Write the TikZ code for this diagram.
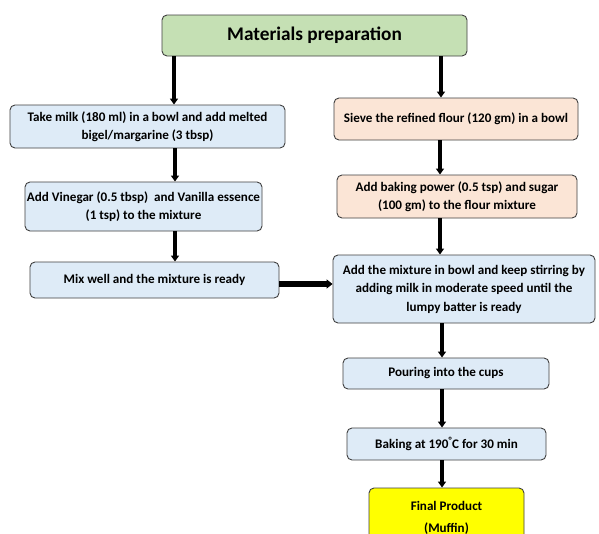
\documentclass[tikz,border=0pt]{standalone}
\usepackage{fontspec}
\setmainfont{Carlito}
\usetikzlibrary{arrows.meta}
\definecolor{greenbox}{HTML}{C5E0B4}
\definecolor{bluebox}{HTML}{DEEBF7}
\definecolor{peachbox}{HTML}{FBE5D6}
\definecolor{yellowbox}{HTML}{FFFF00}
\definecolor{edgegray}{HTML}{404040}
\begin{document}
\begin{tikzpicture}[x=1pt,y=-1pt,
  box/.style={draw=edgegray, line width=0.9pt, rounded corners=5pt, inner sep=0pt, align=center, font=\bfseries\fontsize{13.1}{18.5}\selectfont, anchor=center},
  bluestep/.style={box, fill=bluebox},
  peachstep/.style={box, fill=peachbox},
  flow/.style={line width=3.4pt, -{Triangle[length=6pt,width=8pt]}},
  bigflow/.style={line width=5.5pt, -{Triangle[length=6pt,width=9pt]}}]
\useasboundingbox (0,0) rectangle (599,533);
\clip (0,0) rectangle (599,533);
\fill[white] (0,0) rectangle (599,533);

\node[box, fill=greenbox, minimum width=305pt, minimum height=41pt, font=\bfseries\fontsize{19.3}{22}\selectfont] (title) at (314.5,35.5) {Materials preparation};

\node[bluestep, minimum width=275pt, minimum height=43pt] (L1) at (147.5,126.5) {Take milk (180 ml) in a bowl and add melted\\bigel/margarine (3 tbsp)};
\node[bluestep, minimum width=237pt, minimum height=49pt] (L2) at (143.5,206.5) {Add Vinegar (0.5 tbsp)\ \ and Vanilla essence\\(1 tsp) to the mixture};
\node[bluestep, minimum width=249pt, minimum height=36pt] (L3) at (154.5,280) {Mix well and the mixture is ready};

\node[peachstep, minimum width=244pt, minimum height=42pt] (R1) at (456,119) {Sieve the refined flour (120 gm) in a bowl};
\node[peachstep, minimum width=240pt, minimum height=43pt] (R2) at (457,196.5) {Add baking power (0.5 tsp) and sugar\\(100 gm) to the flour mixture};
\node[bluestep, minimum width=262pt, minimum height=68pt] (M) at (464,289) {Add the mixture in bowl and keep stirring by\\adding milk in moderate speed until the\\lumpy batter is ready};

\node[bluestep, minimum width=206pt, minimum height=31pt] (P) at (446,373.5) {Pouring into the cups};
\node[bluestep, minimum width=199pt, minimum height=32pt] (B) at (446.5,444) {Baking at 190\textsuperscript{\textdegree}C for 30 min};
\node[box, fill=yellowbox, minimum width=155pt, minimum height=60pt, font=\bfseries\fontsize{13.1}{22}\selectfont] (F) at (446.5,518) {Final Product\\(Muffin)};

\coordinate (xl) at (174,0);
\coordinate (xr) at (441,0);
\draw[flow] (title.south -| xl) -- (L1.north -| xl);
\draw[flow] (title.south -| xr) -- (R1.north -| xr);
\coordinate (xl2) at (175,0);
\draw[flow] (L1.south -| xl2) -- (L2.north -| xl2);
\draw[flow] (L2.south -| xl2) -- (L3.north -| xl2);
\coordinate (xr2) at (440,0);
\draw[flow] (R1.south -| xr2) -- (R2.north -| xr2);
\draw[flow] (R2.south -| xr2) -- (M.north -| xr2);
\coordinate (xm) at (0,284);
\draw[bigflow] (L3.east |- xm) -- (M.west |- xm);
\coordinate (xb) at (442,0);
\draw[flow] (M.south -| xb) -- (P.north -| xb);
\draw[flow] (P.south -| xb) -- (B.north -| xb);
\draw[flow] (B.south -| xb) -- (F.north -| xb);
\end{tikzpicture}
\end{document}
